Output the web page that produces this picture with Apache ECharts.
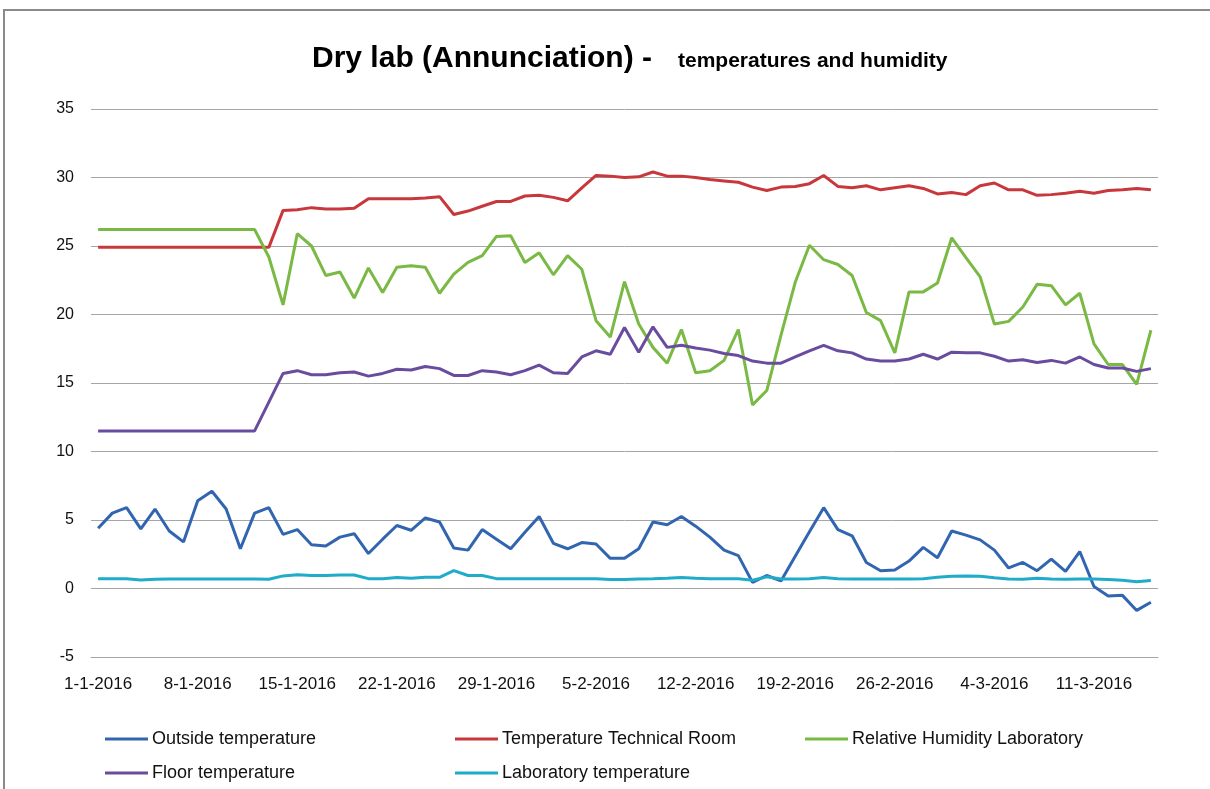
<!DOCTYPE html>
<html>
<head>
<meta charset="utf-8">
<title>Dry lab (Annunciation)</title>
<script src="https://cdn.jsdelivr.net/npm/echarts@6/dist/echarts.min.js"></script>
<style>
    html, body { margin: 0; padding: 0; background: #fff; }
    #container { width: 1210px; height: 789px; }
</style>
</head>
<body>
<div id="container"></div>
<script>
// dagen 1-1-2016 t/m 15-3-2016
var dates = [
    '1-1-2016','2-1-2016','3-1-2016','4-1-2016','5-1-2016','6-1-2016','7-1-2016',
    '8-1-2016','9-1-2016','10-1-2016','11-1-2016','12-1-2016','13-1-2016','14-1-2016',
    '15-1-2016','16-1-2016','17-1-2016','18-1-2016','19-1-2016','20-1-2016','21-1-2016',
    '22-1-2016','23-1-2016','24-1-2016','25-1-2016','26-1-2016','27-1-2016','28-1-2016',
    '29-1-2016','30-1-2016','31-1-2016','1-2-2016','2-2-2016','3-2-2016','4-2-2016',
    '5-2-2016','6-2-2016','7-2-2016','8-2-2016','9-2-2016','10-2-2016','11-2-2016',
    '12-2-2016','13-2-2016','14-2-2016','15-2-2016','16-2-2016','17-2-2016','18-2-2016',
    '19-2-2016','20-2-2016','21-2-2016','22-2-2016','23-2-2016','24-2-2016','25-2-2016',
    '26-2-2016','27-2-2016','28-2-2016','29-2-2016','1-3-2016','2-3-2016','3-3-2016',
    '4-3-2016','5-3-2016','6-3-2016','7-3-2016','8-3-2016','9-3-2016','10-3-2016',
    '11-3-2016','12-3-2016','13-3-2016','14-3-2016','15-3-2016'
];

var outsideTemp = [
    4.4, 5.5, 5.9, 4.35, 5.8, 4.2, 3.4,
    6.4, 7.1, 5.8, 2.9, 5.5, 5.9, 3.95,
    4.3, 3.2, 3.1, 3.75, 4.0, 2.55, 3.6,
    4.6, 4.25, 5.15, 4.85, 2.95, 2.8, 4.3,
    3.6, 2.9, 4.1, 5.25, 3.3, 2.9, 3.35,
    3.25, 2.2, 2.2, 2.9, 4.85, 4.65, 5.25,
    4.55, 3.75, 2.8, 2.4, 0.45, 0.95, 0.55,
    2.35, 4.15, 5.9, 4.3, 3.85, 1.9, 1.3,
    1.35, 2.0, 3.0, 2.25, 4.2, 3.9, 3.55,
    2.8, 1.5, 1.9, 1.3, 2.15, 1.25, 2.7,
    0.15, -0.55, -0.5, -1.6, -1.0
];

var techRoomTemp = [
    24.9, 24.9, 24.9, 24.9, 24.9, 24.9, 24.9,
    24.9, 24.9, 24.9, 24.9, 24.9, 24.9, 27.6,
    27.65, 27.8, 27.7, 27.7, 27.75, 28.45, 28.45,
    28.45, 28.45, 28.5, 28.6, 27.3, 27.55, 27.9,
    28.25, 28.25, 28.65, 28.7, 28.55, 28.3, 29.25,
    30.15, 30.1, 30.0, 30.05, 30.4, 30.1, 30.1,
    30.0, 29.85, 29.75, 29.65, 29.3, 29.05, 29.3,
    29.35, 29.55, 30.15, 29.35, 29.25, 29.4, 29.1,
    29.25, 29.4, 29.2, 28.8, 28.9, 28.75, 29.4,
    29.6, 29.1, 29.1, 28.7, 28.75, 28.85, 29.0,
    28.85, 29.05, 29.1, 29.2, 29.1
];

var humidityLab = [
    26.2, 26.2, 26.2, 26.2, 26.2, 26.2, 26.2,
    26.2, 26.2, 26.2, 26.2, 26.2, 24.2, 20.7,
    25.9, 25.0, 22.85, 23.1, 21.2, 23.4, 21.6,
    23.45, 23.55, 23.45, 21.55, 22.95, 23.8, 24.3,
    25.7, 25.75, 23.8, 24.5, 22.9, 24.3, 23.3,
    19.55, 18.35, 22.4, 19.3, 17.6, 16.45, 18.9,
    15.75, 15.9, 16.65, 18.9, 13.4, 14.45, 18.5,
    22.35, 25.05, 24.0, 23.65, 22.85, 20.15, 19.55,
    17.2, 21.65, 21.65, 22.3, 25.6, 24.15, 22.75,
    19.3, 19.5, 20.55, 22.2, 22.1, 20.7, 21.55,
    17.85, 16.35, 16.35, 14.9, 18.85
];

var floorTemp = [
    11.5, 11.5, 11.5, 11.5, 11.5, 11.5, 11.5,
    11.5, 11.5, 11.5, 11.5, 11.5, 13.6, 15.7,
    15.9, 15.6, 15.6, 15.75, 15.8, 15.5, 15.7,
    16.0, 15.95, 16.2, 16.05, 15.55, 15.55, 15.9,
    15.8, 15.6, 15.9, 16.3, 15.75, 15.7, 16.9,
    17.35, 17.1, 19.05, 17.25, 19.1, 17.6, 17.75,
    17.55, 17.4, 17.15, 17.0, 16.6, 16.45, 16.45,
    16.9, 17.35, 17.75, 17.35, 17.2, 16.75, 16.6,
    16.6, 16.75, 17.1, 16.75, 17.25, 17.2, 17.2,
    16.95, 16.6, 16.7, 16.5, 16.65, 16.45, 16.9,
    16.35, 16.1, 16.1, 15.85, 16.05
];

var labTemp = [
    0.72, 0.72, 0.72, 0.62, 0.68, 0.7, 0.7,
    0.7, 0.7, 0.7, 0.7, 0.7, 0.68, 0.92,
    1.0, 0.95, 0.95, 0.98, 0.98, 0.72, 0.72,
    0.8, 0.75, 0.82, 0.82, 1.3, 0.95, 0.95,
    0.72, 0.72, 0.72, 0.72, 0.72, 0.72, 0.72,
    0.72, 0.65, 0.65, 0.7, 0.72, 0.75, 0.8,
    0.75, 0.72, 0.72, 0.72, 0.6, 0.85, 0.7,
    0.7, 0.72, 0.8, 0.72, 0.7, 0.7, 0.7,
    0.7, 0.7, 0.72, 0.82, 0.9, 0.92, 0.9,
    0.78, 0.7, 0.68, 0.75, 0.7, 0.68, 0.7,
    0.7, 0.65, 0.6, 0.5, 0.58
];

var yTicks = { min: -5, max: 35, step: 5 };

var seriesNames = ['Outside temperature', 'Temperature Technical Room', 'Relative Humidity Laboratory',
    'Floor temperature', 'Laboratory temperature'];
var seriesData = [outsideTemp, techRoomTemp, humidityLab, floorTemp, labTemp];
var seriesColors = ['#3165b0', '#c8373b', '#79b944', '#6a4c9f', '#1fabc9'];

var txtFont = '"Liberation Sans", Arial, sans-serif';

function buildSeries() {
    var list = [];
    for (var i = 0; i < seriesNames.length; i++) {
        list.push({
            name: seriesNames[i],
            type: 'line',
            data: seriesData[i],
            symbol: 'none',
            color: seriesColors[i],
            lineStyle: { width: 3, color: seriesColors[i] },
            animation: false
        });
    }
    return list;
}

// elk legenda-item apart neerzetten (3 kolommen, 2 rijen zoals in excel)
function legendItem(left, top, name) {
    return {
        left: left,
        top: top,
        padding: 0,
        itemGap: 0,
        itemWidth: 43,
        itemHeight: 3,
        icon: 'rect',
        textStyle: { fontSize: 18, color: '#111', fontFamily: txtFont, padding: [0, 0, 0, -1] },
        data: [name]
    };
}

var dom = document.getElementById("container");
var myChart = echarts.init(dom);
var option = null;
option = {
    backgroundColor: '#fff',
    animation: false,
    title: {
        text: '{a|Dry lab (Annunciation) -}{b|temperatures and humidity}',
        left: 312,
        top: 44,
        padding: 0,
        textStyle: {
            rich: {
                a: { fontSize: 30, fontWeight: 'bold', color: '#000', fontFamily: txtFont, verticalAlign: 'bottom' },
                b: { fontSize: 21, fontWeight: 'bold', color: '#000', fontFamily: txtFont, verticalAlign: 'bottom', padding: [0, 0, 2, 26] }
            }
        }
    },
    grid: {
        left: 91,
        right: 52,
        top: 109,
        bottom: 132
    },
    legend: [
        legendItem(105, 730, seriesNames[0]),
        legendItem(455, 730, seriesNames[1]),
        legendItem(805, 730, seriesNames[2]),
        legendItem(105, 764, seriesNames[3]),
        legendItem(455, 764, seriesNames[4])
    ],
    xAxis: {
        type: 'category',
        boundaryGap: true,
        data: dates,
        axisLine: { onZero: false, lineStyle: { color: '#a6a6a6', width: 1 } },
        axisTick: { inside: true, length: 6, interval: 6, lineStyle: { color: '#a6a6a6' } },
        axisLabel: { interval: 6, margin: 19, fontSize: 17, color: '#111', fontFamily: txtFont },
        splitLine: { show: false }
    },
    yAxis: {
        type: 'value',
        min: yTicks.min,
        max: yTicks.max,
        interval: yTicks.step,
        axisLine: { show: false },
        axisTick: { show: false },
        axisLabel: { margin: 17, fontSize: 16, color: '#111', fontFamily: txtFont },
        splitLine: { lineStyle: { color: '#a6a6a6', width: 1 } }
    },
    // rand om de grafiek (rechts en onder valt buiten beeld)
    graphic: [{
        type: 'rect',
        shape: { x: 4, y: 10, width: 1300, height: 900 },
        style: { fill: 'none', stroke: '#8a8a8a', lineWidth: 2 },
        silent: true
    }],
    series: buildSeries()
};

if (option && typeof option === "object") {
    myChart.setOption(option, true);
}
</script>
</body>
</html>
